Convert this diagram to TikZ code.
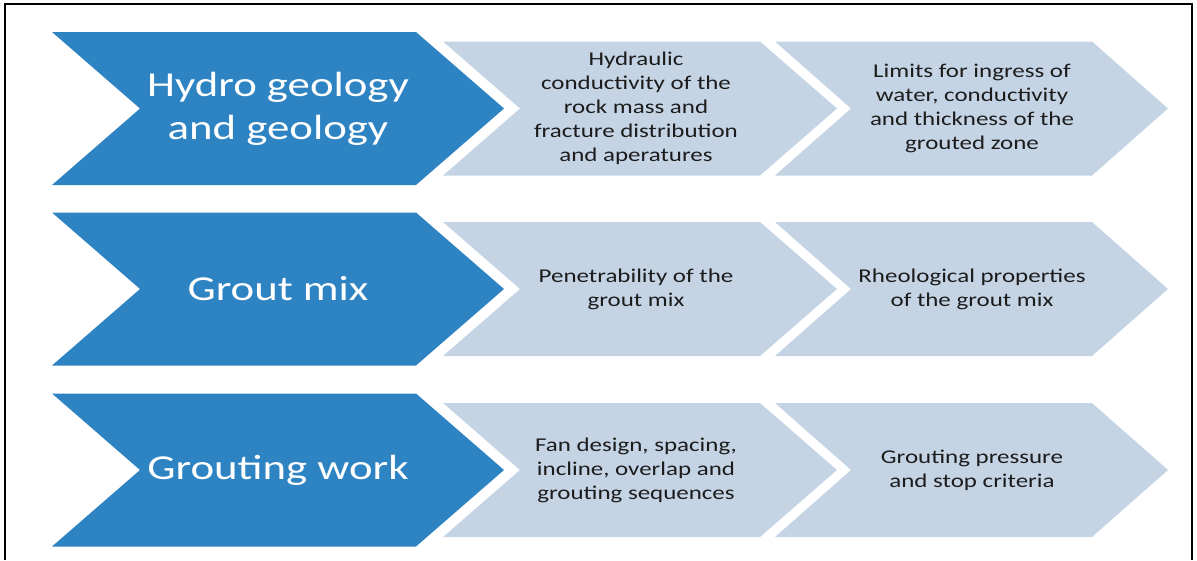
\documentclass[tikz,border=0pt]{standalone}
\usepackage{fontspec}
\setmainfont{Carlito}[FakeStretch=1.28]
\definecolor{stepblue}{RGB}{46,132,195}
\definecolor{steplight}{RGB}{197,212,229}
\definecolor{steptext}{RGB}{28,28,28}
\tikzstyle{mainstep} = [fill=stepblue]
\tikzstyle{substep}  = [fill=steplight]
\tikzstyle{main}     = [text=white, align=center, font=\fontsize{35}{43}\selectfont]
\tikzstyle{sub}      = [text=steptext, align=center, font=\fontsize{19.5}{24}\selectfont]
\tikzstyle{frame}    = [draw=black, line width=2pt]
% #1 style, #2 left x, #3 right x (top corner), #4 point depth, #5 middle y, #6 half height
\newcommand{\chevron}[6]{%
	\path[#1] (#2,#5-#6) -- (#3,#5-#6) -- (#3+#4,#5) -- (#3,#5+#6)
		-- (#2,#5+#6) -- (#2+#4,#5) -- cycle;}

\begin{document}
\begin{tikzpicture}[x=1pt, y=-1pt]
	\useasboundingbox (0,0) rectangle (1197,560);
	\path[frame] (5,560) |- (1192,3.5) -- (1192,560);

		% Row 1 =======================================%
		\chevron{mainstep}{52}{416}{88}{108.5}{76.5}
		\chevron{substep}{443}{760}{77}{108.5}{67}
		\chevron{substep}{775}{1092}{76}{108.5}{67}
		\node [main] (geo)  at (278,108.5) {Hydro geology\\and geology};
		\node [sub]  (geoA) at (636,108.5) {Hydraulic\\conductivity of the\\rock mass and\\fracture distribution\\and aperatures};
		\node [sub]  (geoB) at (972,108.5) {Limits for ingress of\\water, conductivity\\and thickness of the\\grouted zone};
		% Row 2 =======================================%
		\chevron{mainstep}{52}{416}{88}{289}{76.5}
		\chevron{substep}{443}{760}{77}{289}{67}
		\chevron{substep}{775}{1092}{76}{289}{67}
		\node [main] (mix)  at (278,289) {Grout mix};
		\node [sub]  (mixA) at (636,289) {Penetrability of the\\grout mix};
		\node [sub]  (mixB) at (972,289) {Rheological properties\\of the grout mix};
		% Row 3 =======================================%
		\chevron{mainstep}{52}{416}{88}{470}{76.5}
		\chevron{substep}{443}{760}{77}{470}{67}
		\chevron{substep}{775}{1092}{76}{470}{67}
		\node [main] (work)  at (278,470) {Grouting work};
		\node [sub]  (workA) at (636,470) {Fan design, spacing,\\incline, overlap and\\grouting sequences};
		\node [sub]  (workB) at (972,470) {Grouting pressure\\and stop criteria};
		%=========================================%
	\end{tikzpicture}
\end{document}
